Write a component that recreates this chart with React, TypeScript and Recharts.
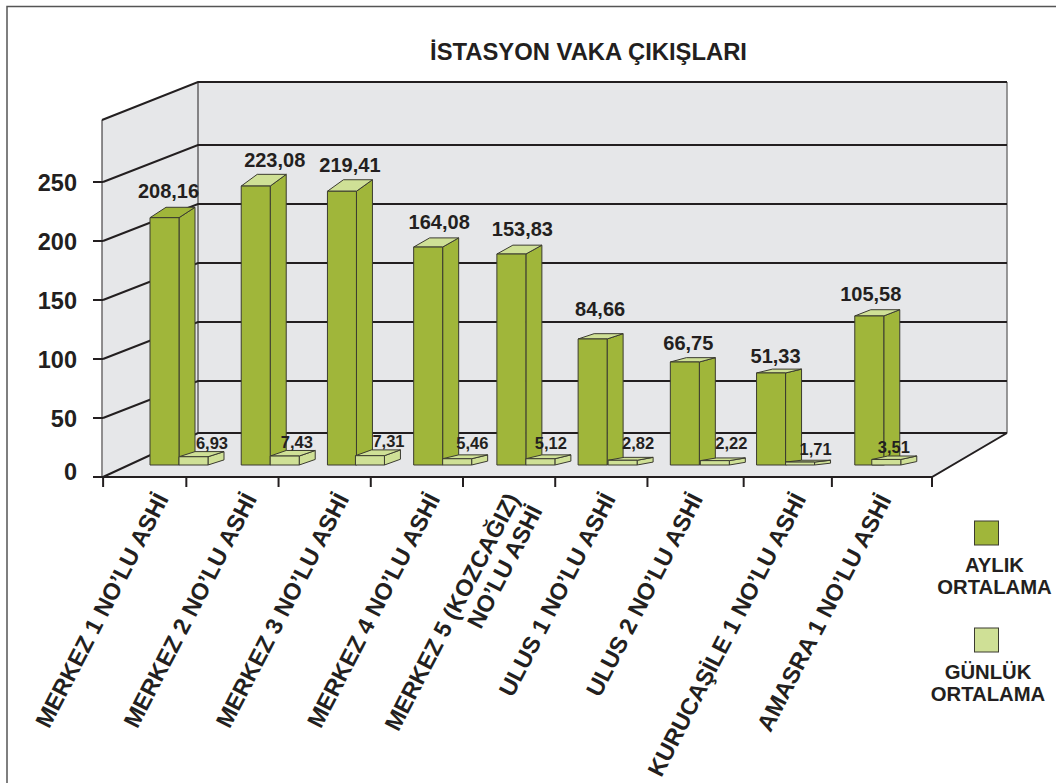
import React from "react";
import { BarChart, Bar, XAxis, YAxis, Customized } from "recharts";

const categories = [
  "MERKEZ 1 NO’LU ASHİ",
  "MERKEZ 2 NO’LU ASHİ",
  "MERKEZ 3 NO’LU ASHİ",
  "MERKEZ 4 NO’LU ASHİ",
  "MERKEZ 5 (KOZCAĞIZ)\nNO’LU ASHİ",
  "ULUS 1 NO’LU ASHİ",
  "ULUS 2 NO’LU ASHİ",
  "KURUCAŞİLE 1 NO’LU ASHİ",
  "AMASRA 1 NO’LU ASHİ",
];
// printed values
const monthlyLabels = ["208,16", "223,08", "219,41", "164,08", "153,83", "84,66", "66,75", "51,33", "105,58"];
const dailyLabels = ["6,93", "7,43", "7,31", "5,46", "5,12", "2,82", "2,22", "1,71", "3,51"];
// bar heights as they stand against the axis in the picture
const monthlyDrawn = [209.6, 236.4, 232, 184.7, 178.8, 106.8, 87.3, 78, 126.3];
const dailyDrawn = [7, 7.6, 7.9, 5.3, 5.3, 4, 3.7, 2.5, 4.7];
const yTicks = [0, 50, 100, 150, 200, 250];

const data = categories.map((name, i) => ({
  name,
  monthly: monthlyDrawn[i],
  daily: dailyDrawn[i],
  monthlyLabel: monthlyLabels[i],
  dailyLabel: dailyLabels[i],
}));

// hand-placed layout of the original drawing
const monthlyShift = [39, 38, 32, 26, 17, 6, 6, 0, 6];
const dailyShift = [39, 38, 31, 26, 17, 7, 7, 0, -6];
const monthlyLabelDx = [18.5, 33.5, 22.5, 25.5, 25.5, 22, 18, 19, 16];
const monthlyLabelDy = [-9, -7, -8, -9, -9, -18, -8, -6, -9];
const dailyLabelDx = [33, 26.7, 33, 29.7, 25, 30, 31, 30, 22];
const dailyLabelDy = [0, -1, -2, 0, 0, 0, 0, 6, 4];
const tickLabelDx = [22, 18, 18, 17, 27, 8, 3, 14, 7];
const tickLabelDy = [5, 5, 5, 5, 17, 5, 5, 5, 6];
const tickMarkDx = [-37, -46, -46, -46, -46, -46, -46, -42, -46];

const FONT = "'Liberation Sans', Arial, sans-serif";
const INK = "#231f20";
const GREEN = "#a0b63a";
const LIGHT = "#cfe096";
const WALL = "#e6e7e9";
const EDGE = "#3b3b30";
const BASE_LIFT = 12;
const DX = 16;
// the value axis runs from y=477 (0) upward at this many pixels per unit
const Y_ZERO = 477;
const Y_PER_UNIT = 1.18;

const poly = (pts: number[][]) => pts.map((p) => p.join(",")).join(" ");

function Cuboid(props: any) {
  const { x, y, width, height, index, kind } = props;
  const monthly = kind === "monthly";
  const i = index as number;
  const fx = x + (monthly ? monthlyShift[i] : dailyShift[i]);
  const top = y - BASE_LIFT;
  const bottom = top + height;
  const dy = monthly ? 0.042 * height : 0.62 * height;
  const topFill = monthly && i === 0 ? GREEN : LIGHT;
  const frontFill = monthly ? GREEN : LIGHT;
  const w = width;
  return (
    <g stroke={EDGE} strokeWidth={1} strokeLinejoin="round">
      <polygon
        fill={frontFill}
        points={poly([[fx + w, top], [fx + w + DX, top - dy], [fx + w + DX, bottom - dy], [fx + w, bottom]])}
      />
      <polygon fill={topFill} points={poly([[fx, top], [fx + DX, top - dy], [fx + w + DX, top - dy], [fx + w, top]])} />
      <rect x={fx} y={top} width={w} height={height} fill={frontFill} />
      {monthly ? (
        <text
          x={fx + monthlyLabelDx[i]}
          y={top - dy + monthlyLabelDy[i]}
          textAnchor="middle"
          stroke="none"
          fill={INK}
          fontFamily={FONT}
          fontWeight={700}
          fontSize={20}
        >
          {monthlyLabels[i]}
        </text>
      ) : (
        <text
          x={fx + dailyLabelDx[i]}
          y={bottom - 16 + dailyLabelDy[i]}
          textAnchor="middle"
          stroke="none"
          fill={INK}
          fontFamily={FONT}
          fontWeight={700}
          fontSize={16.5}
        >
          {dailyLabels[i]}
        </text>
      )}
    </g>
  );
}

function YTick(props: any) {
  const { y, payload } = props;
  return (
    <g>
      <line x1={93} x2={103} y1={y} y2={y} stroke={INK} strokeWidth={2} />
      <text
        x={77}
        y={y + (payload.value === 0 ? 3 : 8.5)}
        textAnchor="end"
        fontFamily={FONT}
        fontWeight={700}
        fontSize={23.5}
        fill={INK}
      >
        {payload.value}
      </text>
    </g>
  );
}

function XTick(props: any) {
  const { x, payload, index } = props;
  const lines = String(payload.value).split("\n");
  const mark = x + tickMarkDx[index];
  return (
    <g>
      <line x1={mark} x2={mark} y1={477} y2={487} stroke={INK} strokeWidth={2} />
      {index === categories.length - 1 && <line x1={932} x2={932} y1={477} y2={487} stroke={INK} strokeWidth={2} />}
      <g transform={`translate(${x + tickLabelDx[index]},${490 + tickLabelDy[index]}) rotate(-62.5)`}>
        {lines.map((l, k) => (
          <text
            key={k}
            x={0}
            y={(k - (lines.length - 1)) * 26 + 8}
            textAnchor="end"
            fontFamily={FONT}
            fontWeight={700}
            fontSize={23.5}
            fill={INK}
          >
            {l}
          </text>
        ))}
      </g>
    </g>
  );
}

function Walls() {
  return (
    <g>
      <path d="M1056 6.5H7V783" fill="none" stroke="#555" strokeWidth={1.5} />
      <polygon points="102,120 198,82 198,433 103,477" fill={WALL} />
      <polygon points="198,82 1007,82 1007,433 198,433" fill={WALL} />
      <polygon points="103,477 198,433 1007,433 932,477" fill={WALL} />
      <line x1={102} y1={120} x2={102} y2={477} stroke={INK} strokeWidth={1} />
      <line x1={198} y1={82} x2={198} y2={433} stroke={INK} strokeWidth={1} />
      <line x1={1007} y1={82} x2={1007} y2={433} stroke="#777" strokeWidth={1.5} />
      <polyline points="102,120 198,82 1007,82" fill="none" stroke={INK} strokeWidth={2} />
      {yTicks.map((v) => {
        const y = Y_ZERO - v * Y_PER_UNIT;
        const back = y - (v === 0 ? 44 : 37);
        return (
          <polyline key={v} points={poly([[103, y], [198, back], [1007, back]])} fill="none" stroke={INK} strokeWidth={2} />
        );
      })}
      <polyline points="1007,433 932,477 103,477" fill="none" stroke={INK} strokeWidth={2} />
      <text x={588.5} y={60} textAnchor="middle" fontFamily={FONT} fontWeight={700} fontSize={23.8} fill={INK}>
        İSTASYON VAKA ÇIKIŞLARI
      </text>
    </g>
  );
}

function LegendBlock() {
  const items = [
    { fill: GREEN, lines: ["AYLIK", "ORTALAMA"], y: 521, cx: 994.5 },
    { fill: LIGHT, lines: ["GÜNLÜK", "ORTALAMA"], y: 628, cx: 988 },
  ];
  return (
    <g>
      {items.map((it) => (
        <g key={it.lines[0]}>
          <rect x={974.5} y={it.y} width={24} height={24} fill={it.fill} stroke={EDGE} strokeWidth={1} />
          {it.lines.map((l, k) => (
            <text
              key={l}
              x={it.cx}
              y={it.y + 50.5 + k * 22.5}
              textAnchor="middle"
              fontFamily={FONT}
              fontWeight={700}
              fontSize={20.3}
              fill={INK}
            >
              {l}
            </text>
          ))}
        </g>
      ))}
    </g>
  );
}

export default function App() {
  return (
    <div style={{ position: "absolute", left: 0, top: 0, width: 1056, height: 783, background: "#fff" }}>
      <BarChart
        width={1056}
        height={783}
        data={data}
        margin={{ top: 123, right: 132, bottom: 0, left: 0 }}
        barSize={29}
        barGap={0}
      >
        <Customized component={<Walls />} />
        <XAxis dataKey="name" height={306} axisLine={false} tickLine={false} interval={0} tick={<XTick />} />
        <YAxis
          width={94}
          domain={[0, 300]}
          ticks={yTicks}
          axisLine={false}
          tickLine={false}
          interval={0}
          tick={<YTick />}
        />
        <Bar dataKey="monthly" isAnimationActive={false} shape={(p: any) => <Cuboid {...p} kind="monthly" />} />
        <Bar dataKey="daily" isAnimationActive={false} shape={(p: any) => <Cuboid {...p} kind="daily" />} />
        <Customized component={<LegendBlock />} />
      </BarChart>
    </div>
  );
}
